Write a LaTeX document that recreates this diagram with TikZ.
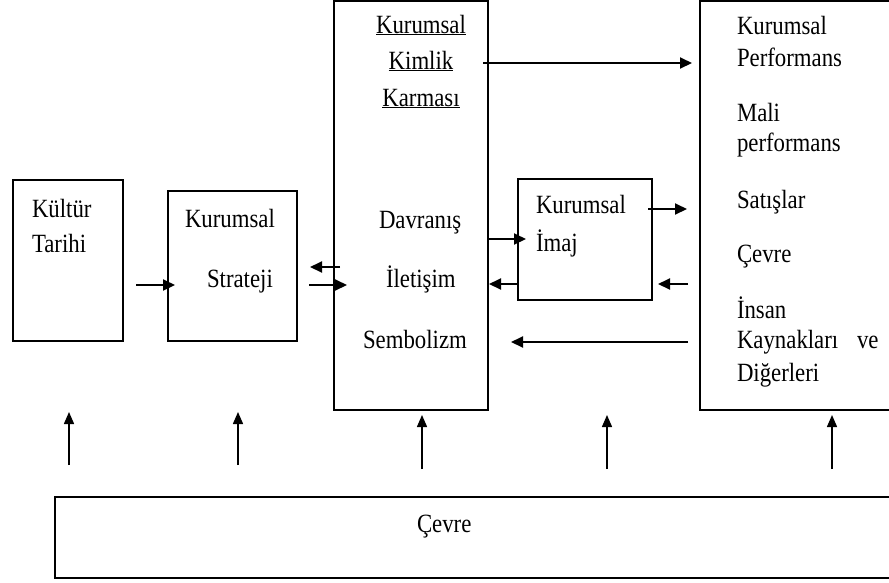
\documentclass[tikz,border=0pt]{standalone}
\usepackage{fontspec}
\setmainfont{Liberation Serif}
\usetikzlibrary{arrows.meta,calc}
\begin{document}
\begin{tikzpicture}[x=1pt,y=-1pt,
  box/.style={draw=black,line width=2pt,inner sep=0pt,outer sep=0pt,anchor=north west},
  lbl/.style={inner sep=0pt,outer sep=0pt,anchor=base west,font=\fontsize{23.5}{28}\selectfont},
  ulbl/.style={lbl,anchor=base},
  arr/.style={line width=2pt,-{Triangle[length=12pt,width=11pt]}},
  uparr/.style={line width=1.5pt,-{Triangle[length=12pt,width=10pt]}}]
\clip (0,0) rectangle (889,582);
\fill[white] (0,0) rectangle (889,582);
\newcommand{\tall}[1]{\scalebox{0.97}[1.12]{#1}}
% boxes
\node[box,minimum width=110pt,minimum height=161pt] (kultur) at (13,180) {};
\node[box,minimum width=129pt,minimum height=150pt] (strateji) at (168,191) {};
\node[box,minimum width=154pt,minimum height=409pt] (kimlik) at (334,1) {};
\node[box,minimum width=134pt,minimum height=121pt] (imaj) at (518,179) {};
\node[box,minimum width=210pt,minimum height=409pt] (perf) at (700,1) {};
\node[box,minimum width=850pt,minimum height=81pt] (cevre) at (55,497) {};
% texts
\node[lbl] (t1) at (32,217) {\tall{Kültür}};
\node[lbl] (t2) at (32,252) {\tall{Tarihi}};
\node[lbl] (t3) at (185,227) {\tall{Kurumsal}};
\node[lbl] (t4) at (207,287) {\tall{Strateji}};
\node[ulbl] (t5) at (421,33) {\underline{\tall{Kurumsal}}};
\node[ulbl] (t6) at (421,69) {\underline{\tall{Kimlik}}};
\node[ulbl] (t7) at (421,106) {\underline{\tall{Karması}}};
\node[lbl] (t8) at (379,228) {\tall{Davranış}};
\node[lbl] (t9) at (386,287) {\tall{İletişim}};
\node[lbl] (t10) at (363,348) {\tall{Sembolizm}};
\node[lbl] (t11) at (536,213) {\tall{Kurumsal}};
\node[lbl] (t12) at (536,251) {\tall{İmaj}};
\node[lbl] (r1) at (737,34) {\tall{Kurumsal}};
\node[lbl] (r2) at (737,66) {\tall{Performans}};
\node[lbl] (r3) at (737,121) {\tall{Mali}};
\node[lbl] (r4) at (737,151) {\tall{performans}};
\node[lbl] (r5) at (737,208) {\tall{Satışlar}};
\node[lbl] (r6) at (737,262) {\tall{Çevre}};
\node[lbl] (r7) at (737,318) {\tall{İnsan}};
\node[lbl] (r8) at (737,348) {\tall{Kaynakları}};
\node[lbl] (r9) at (857,348) {\tall{ve}};
\node[lbl] (r10) at (737,381) {\tall{Diğerleri}};
\node[lbl] (t13) at (417,532) {\tall{Çevre}};
% horizontal arrows
\draw[arr] ($(kultur.east|-0,285)+(13,0)$) -- ($(strateji.west|-0,285)+(7,0)$);
\draw[arr] ($(kimlik.west|-0,267)+(6,0)$) -- ($(strateji.east|-0,267)+(13,0)$);
\draw[arr] ($(strateji.east|-0,285)+(12,0)$) -- ($(kimlik.west|-0,285)+(13,0)$);
\draw[arr] ($(kimlik.east|-0,63)+(-5,0)$) -- ($(perf.west|-0,63)+(-8,0)$);
\draw[arr] (kimlik.east|-0,239) -- ($(imaj.west|-0,239)+(8,0)$);
\draw[arr] (imaj.west|-0,284) -- ($(kimlik.east|-0,284)+(1,0)$);
\draw[arr] ($(imaj.east|-0,209)+(-4,0)$) -- ($(perf.west|-0,209)+(-13,0)$);
\draw[arr] ($(perf.west|-0,284)+(-12,0)$) -- ($(imaj.east|-0,284)+(6,0)$);
\draw[arr] ($(perf.west|-0,342)+(-12,0)$) -- ($(kimlik.east|-0,342)+(23,0)$);
% vertical arrows (from the environment box upward)
\draw[uparr] ($(kultur.south)+(1,124)$) -- ($(kultur.south)+(1,71)$);
\draw[uparr] ($(strateji.south)+(5.5,124)$) -- ($(strateji.south)+(5.5,71)$);
\draw[uparr] ($(kimlik.south)+(11,59)$) -- ($(kimlik.south)+(11,5)$);
\draw[uparr] ($(imaj.south)+(22,169)$) -- ($(imaj.south)+(22,115)$);
\draw[uparr] ($(perf.south)+(27,59)$) -- ($(perf.south)+(27,5)$);
\end{tikzpicture}
\end{document}
